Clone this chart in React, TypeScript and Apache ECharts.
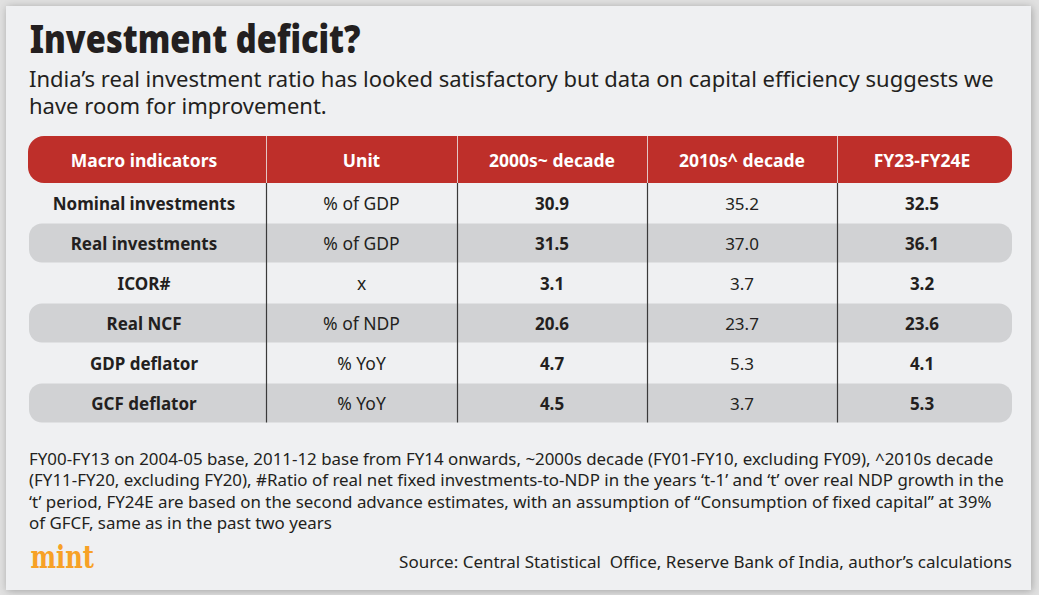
import React, { useEffect, useRef } from "react";
import * as echarts from "echarts";

const titleText = "Investment deficit?";
const subtitleLines = [
  "India\u2019s real investment ratio has looked satisfactory but data on capital efficiency suggests we",
  "have room for improvement.",
];
const headers = ["Macro indicators", "Unit", "2000s~ decade", "2010s^ decade", "FY23-FY24E"];
const indicators = ["Nominal investments", "Real investments", "ICOR#", "Real NCF", "GDP deflator", "GCF deflator"];
const units = ["% of GDP", "% of GDP", "x", "% of NDP", "% YoY", "% YoY"];
const decade2000s = [30.9, 31.5, 3.1, 20.6, 4.7, 4.5];
const decade2010s = [35.2, 37.0, 3.7, 23.7, 5.3, 3.7];
const fy23fy24e = [32.5, 36.1, 3.2, 23.6, 4.1, 5.3];
const footnoteLines = [
  "FY00-FY13 on 2004-05 base, 2011-12 base from FY14 onwards, ~2000s decade (FY01-FY10, excluding FY09), ^2010s decade",
  "(FY11-FY20, excluding FY20), #Ratio of real net fixed investments-to-NDP in the years \u2018t-1\u2019 and \u2018t\u2019 over real NDP growth in the",
  "\u2018t\u2019 period, FY24E are based on the second advance estimates, with an assumption of \u201cConsumption of fixed capital\u201d at 39%",
  "of GFCF, same as in the past two years",
];
const sourceText = "Source: Central Statistical  Office, Reserve Bank of India, author\u2019s calculations";
const logoText = "mint";

const FONT = '"Noto Sans", "Open Sans", sans-serif';
const DARK = "#231f20";
const RED = "#be2f2a";
const GREY_ROW = "#d1d2d4";
const PANEL = "#eff0f2";

const colEdges = [28, 266, 457, 647, 837, 1012];
const headerTop = 136;
const headerBottom = 183;
const rowH = 40;
const firstRowCenter = 203;

function txt(text: string, x: number, y: number, font: string, fill: string, align = "center", extra: any = {}, styleExtra: any = {}) {
  return {
    type: "text",
    x,
    y,
    silent: true,
    ...extra,
    style: {
      text,
      font,
      fill,
      textAlign: align,
      textVerticalAlign: "middle",
      align,
      verticalAlign: "middle",
      ...styleExtra,
    },
  };
}

export default function App() {
  const ref = useRef<HTMLDivElement>(null);
  useEffect(() => {
    if (!ref.current) return;
    const chart = echarts.init(ref.current, undefined, { renderer: "svg" });
    const els: any[] = [];
    // panel
    els.push({
      type: "rect",
      shape: { x: 6, y: 6, width: 1025, height: 584 },
      style: { fill: PANEL, shadowBlur: 8, shadowColor: "rgba(0,0,0,0.28)", shadowOffsetX: 1, shadowOffsetY: 1 },
      silent: true,
    });
    // title & subtitle
    els.push(txt(titleText, 26, 38, `900 38px ${FONT}`, DARK, "left", { scaleX: 0.858, originX: 26, originY: 38 }));
    els.push(
      txt(subtitleLines.join("\n"), 29, 78 + 13.5, `22px ${FONT}`, DARK, "left", {}, { lineHeight: 27 })
    );
    // header
    els.push({
      type: "rect",
      shape: { x: colEdges[0], y: headerTop, width: colEdges[5] - colEdges[0], height: headerBottom - headerTop, r: 16 },
      style: { fill: RED },
      silent: true,
    });
    const nRows = indicators.length;
    const tableBottom = firstRowCenter + (nRows - 1) * rowH + 19.5;
    // grey rows
    for (let i = 0; i < nRows; i++) {
      if (i % 2 === 1) {
        const cy = firstRowCenter + i * rowH;
        els.push({
          type: "rect",
          shape: { x: 29, y: cy - 19.5, width: colEdges[5] - 29, height: 39, r: 13 },
          style: { fill: GREY_ROW },
          silent: true,
        });
      }
    }
    // dividers
    for (let c = 1; c < colEdges.length - 1; c++) {
      const x = colEdges[c] + 0.5;
      els.push({
        type: "line",
        shape: { x1: x, y1: headerTop, x2: x, y2: headerBottom },
        style: { stroke: "rgba(235,225,225,0.85)", lineWidth: 1 },
        silent: true,
      });
      els.push({
        type: "line",
        shape: { x1: x, y1: headerBottom, x2: x, y2: tableBottom },
        style: { stroke: "#3a3a3a", lineWidth: 1.2 },
        silent: true,
      });
    }
    const centers = colEdges.slice(0, 5).map((e, i) => (e + colEdges[i + 1]) / 2);
    centers[0] = 144;
    centers[4] = 922;
    const headerMid = (headerTop + headerBottom) / 2;
    headers.forEach((h, i) => els.push(txt(h, centers[i], headerMid, `bold 17.5px ${FONT}`, "#ffffff")));
    for (let i = 0; i < nRows; i++) {
      const cy = firstRowCenter + i * rowH;
      els.push(txt(indicators[i], centers[0], cy, `bold 17px ${FONT}`, DARK));
      els.push(txt(units[i], centers[1], cy, `17.5px ${FONT}`, DARK));
      els.push(txt(decade2000s[i].toFixed(1), centers[2], cy, `bold 17px ${FONT}`, DARK));
      els.push(txt(decade2010s[i].toFixed(1), centers[3], cy, `17px ${FONT}`, DARK));
      els.push(txt(fy23fy24e[i].toFixed(1), centers[4], cy, `bold 17px ${FONT}`, DARK));
    }
    footnoteLines.forEach((l, i) => els.push(txt(l, 29, 458 + i * 21.5, `16.9px ${FONT}`, DARK, "left")));
    els.push(txt(sourceText, 1012, 561, `17px ${FONT}`, DARK, "right"));
    els.push(
      txt(logoText, 25, 557, `bold 31px "DejaVu Serif", serif`, "#f7a126", "left", { scaleX: 0.78, originX: 25, originY: 557 })
    );

    chart.setOption({ animation: false, graphic: { elements: els } });
    return () => chart.dispose();
  }, []);
  return (
    <div
      ref={ref}
      style={{ position: "fixed", left: 0, top: 0, width: 1039, height: 595, background: "#e1e1e1" }}
    />
  );
}
